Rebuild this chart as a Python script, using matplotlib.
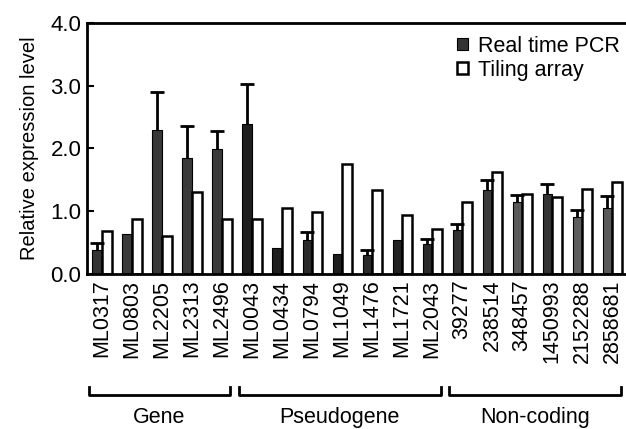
import numpy as np
import matplotlib.pyplot as plt

plt.rcParams['font.family'] = ['Liberation Sans', 'DejaVu Sans']

labels = ['ML0317', 'ML0803', 'ML2205', 'ML2313', 'ML2496',
          'ML0043', 'ML0434', 'ML0794', 'ML1049', 'ML1476', 'ML1721', 'ML2043',
          '39277', '238514', '348457', '1450993', '2152288', '2858681']
pcr = [0.39, 0.64, 2.30, 1.84, 1.99,
       2.39, 0.42, 0.55, 0.32, 0.31, 0.54, 0.48,
       0.71, 1.34, 1.14, 1.28, 0.91, 1.06]
pcr_err = [0.11, 0.0, 0.60, 0.51, 0.29,
           0.64, 0.0, 0.12, 0.0, 0.08, 0.0, 0.08,
           0.09, 0.16, 0.12, 0.16, 0.11, 0.19]
tiling = [0.69, 0.87, 0.60, 1.31, 0.87,
          0.87, 1.05, 0.99, 1.75, 1.34, 0.94, 0.72,
          1.15, 1.63, 1.27, 1.22, 1.36, 1.46]
pcr_colors = ['#333333', '#3a3a3a', '#383838', '#3a3a3a', '#3a3a3a',
              '#1e1e1e', '#1e1e1e', '#2a2a2a', '#1e1e1e', '#2a2a2a', '#222222', '#2a2a2a',
              '#333333', '#3a3a3a', '#5a5a5a', '#333333', '#5e5e5e', '#5a5a5a']
groups = [('Gene', 0, 4), ('Pseudogene', 5, 11), ('Non-coding', 12, 17)]

fig = plt.figure(figsize=(6.26, 4.29), dpi=100)
ax = fig.add_axes([0.139, 0.361, 0.863, 0.586])

x = np.arange(len(labels))
w = 0.32
ax.bar(x - w / 2, pcr, w, color=pcr_colors, edgecolor='black', linewidth=0.8,
       label='Real time PCR', zorder=2)
ax.bar(x + w / 2, tiling, w, color='white', edgecolor='black', linewidth=1.8,
       label='Tiling array', zorder=2)

# upper error bars only, and only where there is one
err = np.array(pcr_err)
has = err > 0
eb = ax.errorbar((x - w / 2)[has], np.array(pcr)[has],
                 yerr=[np.zeros(has.sum()), err[has]], fmt='none',
                 ecolor='black', elinewidth=2, capsize=5, capthick=2, zorder=3)
eb[1][0].set_visible(False)

ax.set_xlim(-0.5, len(labels) - 0.5)
ax.set_ylim(0, 4.0)
ax.set_yticks([0, 1, 2, 3, 4])
ax.set_yticklabels(['0.0', '1.0', '2.0', '3.0', '4.0'], fontsize=16)
ax.set_xticks(x)
ax.set_xticklabels(labels, rotation=90, fontsize=15.5)
ax.tick_params(axis='x', length=0, pad=4)
ax.tick_params(axis='y', direction='in', length=5, width=1.5, pad=4)
ax.set_ylabel('Relative expression level', fontsize=14.5, labelpad=8)

for s in ['left', 'top', 'bottom']:
    ax.spines[s].set_linewidth(2)
ax.spines['right'].set_visible(False)

leg = ax.legend(loc='upper right', bbox_to_anchor=(1.01, 1.0), frameon=False,
                fontsize=15.5, handlelength=0.5, handleheight=0.5,
                handletextpad=0.45, labelspacing=0.15, borderaxespad=0.2)

trans = ax.get_xaxis_transform()
for name, i0, i1 in groups:
    xa, xb = i0 - 0.45, i1 + 0.28
    ax.plot([xa, xa, xb, xb], [-0.45, -0.481, -0.481, -0.45], color='black',
            lw=2, transform=trans, clip_on=False)
    ax.text((xa + xb) / 2, -0.57, name, ha='center', va='center',
            fontsize=15.5, transform=trans)

fig.savefig('out.png', dpi=100)
